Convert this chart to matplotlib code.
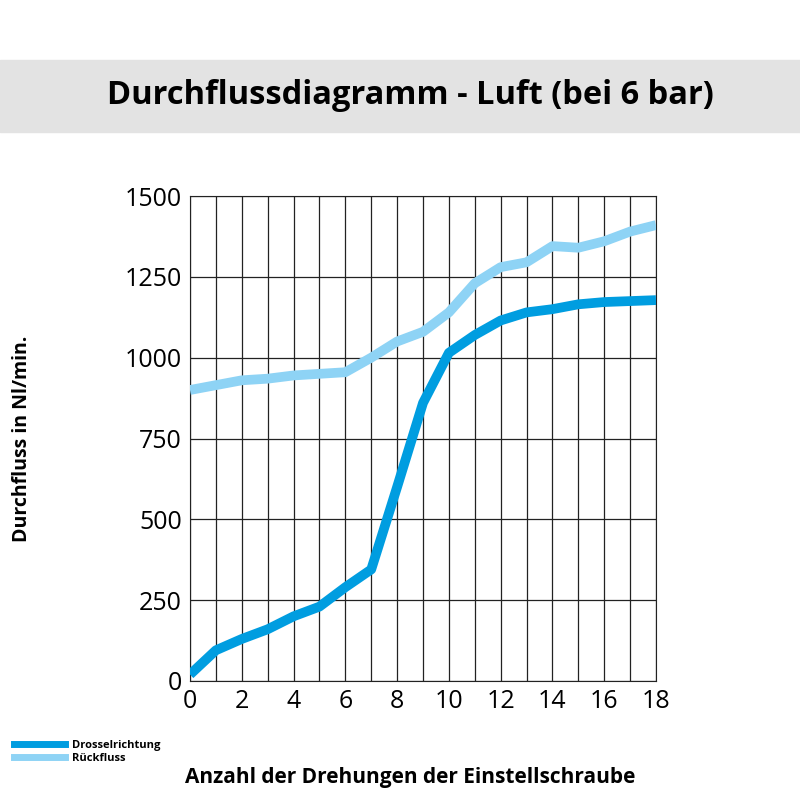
import matplotlib
matplotlib.use("Agg")
import matplotlib.pyplot as plt
from matplotlib.patches import Rectangle
from matplotlib.lines import Line2D

x = list(range(19))
drossel = [20, 95, 130, 160, 200, 230, 290, 345, 600, 860, 1015, 1070, 1115, 1140, 1150, 1165, 1172, 1175, 1178]
rueck = [900, 915, 930, 935, 945, 950, 955, 1000, 1050, 1080, 1140, 1230, 1280, 1295, 1345, 1340, 1360, 1390, 1410]
xticks = list(range(0, 19, 2))
yticks = [0, 250, 500, 750, 1000, 1250, 1500]

plt.rcParams['font.family'] = ['Open Sans', 'DejaVu Sans']
fig = plt.figure(figsize=(8, 8), dpi=100)
fig.patches.append(Rectangle((0, 1-132/800), 1, 72/800, transform=fig.transFigure, color='#e3e3e3', zorder=0))
fig.text(0.5125, 1-96/800, 'Durchflussdiagramm - Luft (bei 6 bar)', ha='center', va='center', fontsize=23.5, fontweight='bold')

ax = fig.add_axes([190/800, 1-681/800, 466/800, 485/800])
c1, c2 = '#009de0', '#8ed3f5'
ax.plot(x, rueck, color=c2, lw=7, solid_capstyle='butt', zorder=3)
ax.plot(x, drossel, color=c1, lw=7, solid_capstyle='butt', zorder=4)
ax.set_xlim(0, 18)
ax.set_ylim(0, 1500)
ax.set_xticks(range(19), minor=True)
ax.set_xticks(xticks)
ax.set_yticks(yticks)
ax.grid(True, which='both', axis='x', color='#222', lw=0.9)
ax.grid(True, axis='y', color='#222', lw=0.9)
ax.tick_params(which='both', length=0, labelsize=18, pad=6)
for s in ax.spines.values():
    s.set_color('#222')
ax.set_ylabel('Durchfluss in Nl/min.', fontsize=14, fontweight='bold', labelpad=0)
ax.yaxis.set_label_coords(-158/466, 0.5)
fig.text(0.513, 1-778/800, 'Anzahl der Drehungen der Einstellschraube', ha='center', va='center', fontsize=15, fontweight='bold')

leg = fig.legend([Line2D([], [], color=c1, lw=5), Line2D([], [], color=c2, lw=5)],
                 ['Drosselrichtung', 'Rückfluss'], loc='upper left', bbox_to_anchor=(0.005, 1-730/800),
                 frameon=False, handlelength=4.6, handletextpad=0.6, labelspacing=0.15,
                 prop={'weight': 'bold', 'size': 8})
fig.savefig('out.png', dpi=100)
